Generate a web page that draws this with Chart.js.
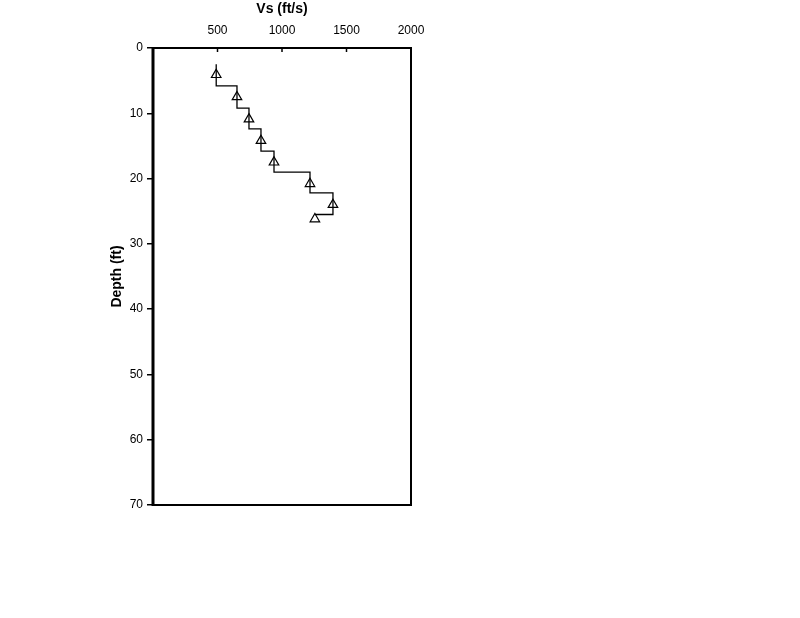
<!DOCTYPE html>
<html>
<head>
<meta charset="utf-8">
<script src="https://cdn.jsdelivr.net/npm/chart.js@4/dist/chart.umd.min.js"></script>
<style>
  body { margin: 0; background: #fff; }
  canvas { display: block; }
</style>
</head>
<body>
<canvas id="myChart" width="800" height="618"></canvas>
<script>
// shear wave velocity per layer (ft/s) and depth of the top of each layer (ft)
var layerVs = [490, 651, 744, 837, 938, 1217, 1395, 1255];
var layerTop = [2.5, 5.8, 9.2, 12.4, 15.8, 19.0, 22.2, 25.5];
// measured points (triangles)
var pointVs = [490, 651, 744, 837, 938, 1217, 1395, 1255];
var pointDepth = [4.1, 7.5, 10.9, 14.2, 17.5, 20.8, 24.0, 26.2];
var xTicks = [500, 1000, 1500, 2000];
var yTicks = [0, 10, 20, 30, 40, 50, 60, 70];

// step profile built from the layers
var stepData = [];
for (var i = 0; i < layerVs.length; i++) {
    if (i > 0) stepData.push({ x: layerVs[i], y: layerTop[i] });
    if (i < layerVs.length - 1) {
        stepData.push({ x: layerVs[i], y: layerTop[i] });
        stepData.push({ x: layerVs[i], y: layerTop[i + 1] });
    }
}
var pointData = pointVs.map(function (v, i) { return { x: v, y: pointDepth[i] }; });

var frame = {
    id: 'frame',
    afterDraw: function (chart) {
        var a = chart.chartArea, c = chart.ctx;
        c.save();
        c.strokeStyle = '#000';
        c.lineWidth = 2;
        c.beginPath();
        c.moveTo(a.left, a.top); c.lineTo(a.right, a.top);
        c.lineTo(a.right, a.bottom); c.lineTo(a.left, a.bottom);
        c.stroke();
        c.lineWidth = 3;
        c.beginPath();
        c.moveTo(a.left, a.top - 1); c.lineTo(a.left, a.bottom + 1);
        c.stroke();
        // short inward ticks on the top axis
        var xs = chart.scales.x;
        c.lineWidth = 1.5;
        xTicks.forEach(function (t) {
            var px = xs.getPixelForValue(t);
            c.beginPath(); c.moveTo(px, a.top); c.lineTo(px, a.top + 4); c.stroke();
        });
        c.restore();
    }
};

Chart.defaults.font.family = '"Liberation Sans", Arial, sans-serif';
Chart.defaults.font.size = 12;
Chart.defaults.color = '#000';

var ctx = document.getElementById('myChart').getContext('2d');
var myChart = new Chart(ctx, {
    type: 'scatter',
    data: {
        datasets: [
            {
                label: 'Profile',
                data: stepData,
                showLine: true,
                borderColor: '#000',
                borderWidth: 1.3,
                pointRadius: 0,
                fill: false
            },
            {
                label: 'Vs',
                data: pointData,
                pointStyle: 'triangle',
                pointRadius: 5.5,
                backgroundColor: '#fff',
                borderColor: '#000',
                borderWidth: 1.2
            }
        ]
    },
    options: {
        responsive: false,
        animation: false,
        layout: { padding: { left: 109, top: 0, right: 389, bottom: 113 } },
        plugins: { legend: { display: false }, tooltip: { enabled: false } },
        scales: {
            x: {
                type: 'linear',
                position: 'top',
                min: 0,
                max: 2000,
                afterFit: function (s) { s.height = 48; },
                afterBuildTicks: function (s) { s.ticks = xTicks.map(function (v) { return { value: v }; }); },
                ticks: { padding: 10, maxRotation: 0, callback: function (v) { return String(v); } },
                grid: { display: false, drawTicks: false },
                border: { display: false },
                title: { display: true, text: 'Vs (ft/s)', font: { weight: 'bold', size: 14 }, padding: { top: 1, bottom: 2 } }
            },
            y: {
                type: 'linear',
                reverse: true,
                min: 0,
                max: 70,
                afterFit: function (s) { s.width = 44; },
                afterBuildTicks: function (s) { s.ticks = yTicks.map(function (v) { return { value: v }; }); },
                ticks: { padding: 4, callback: function (v) { return String(v); } },
                grid: { drawOnChartArea: false, drawTicks: true, tickLength: 6, color: '#000', lineWidth: 1.5 },
                border: { display: false },
                title: { display: true, text: 'Depth (ft)', font: { weight: 'bold', size: 14 }, padding: 0 }
            }
        }
    },
    plugins: [frame]
});
</script>
</body>
</html>
